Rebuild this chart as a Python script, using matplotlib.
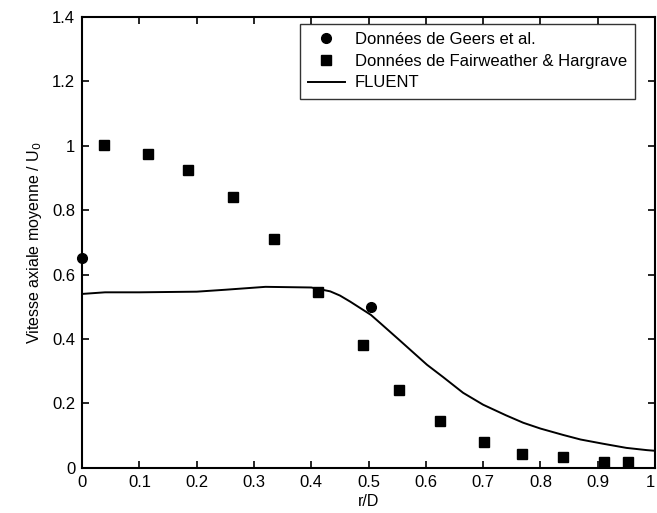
import matplotlib
matplotlib.use("Agg")
import matplotlib.pyplot as plt

plt.rcParams["font.family"] = ["Liberation Sans", "DejaVu Sans"]

# Donnees de Geers et al.
geers_r = [0.0, 0.504]
geers_u = [0.652, 0.50]

# Donnees de Fairweather & Hargrave
fh_r = [0.038, 0.115, 0.185, 0.264, 0.335, 0.412, 0.490, 0.553, 0.625,
        0.702, 0.768, 0.840, 0.911, 0.953]
fh_u = [1.003, 0.975, 0.925, 0.842, 0.711, 0.547, 0.382, 0.242, 0.146,
        0.081, 0.043, 0.034, 0.019, 0.019]

# FLUENT
fluent_r = [0.0, 0.04, 0.1, 0.2, 0.25, 0.32, 0.4, 0.433, 0.45, 0.468, 0.504,
            0.52, 0.553, 0.58, 0.602, 0.63, 0.665, 0.7, 0.74, 0.77, 0.8,
            0.84, 0.87, 0.909, 0.95, 0.986, 1.0]
fluent_u = [0.54, 0.545, 0.545, 0.547, 0.553, 0.562, 0.56, 0.548, 0.535, 0.516,
            0.475, 0.45, 0.398, 0.355, 0.32, 0.282, 0.233, 0.196, 0.163,
            0.14, 0.122, 0.102, 0.088, 0.075, 0.062, 0.055, 0.053]

xticks = [0, 0.1, 0.2, 0.3, 0.4, 0.5, 0.6, 0.7, 0.8, 0.9, 1]
xtick_labels = ["0", "0.1", "0.2", "0.3", "0.4", "0.5", "0.6", "0.7", "0.8", "0.9", "1"]
yticks = [0, 0.2, 0.4, 0.6, 0.8, 1.0, 1.2, 1.4]
ytick_labels = ["0", "0.2", "0.4", "0.6", "0.8", "1", "1.2", "1.4"]

fig = plt.figure(figsize=(6.57, 5.13), dpi=100)
ax = fig.add_axes([0.125, 0.088, 0.872, 0.879])

ax.plot(geers_r, geers_u, "o", color="black", markersize=7,
        label="Données de Geers et al.", clip_on=False, zorder=3)
ax.plot(fh_r, fh_u, "s", color="black", markersize=7.5,
        label="Données de Fairweather & Hargrave", clip_on=False, zorder=3)
ax.plot(fluent_r, fluent_u, "-", color="black", linewidth=1.4, label="FLUENT")

ax.set_xlim(0, 1)
ax.set_ylim(0, 1.4)
ax.set_xticks(xticks)
ax.set_xticklabels(xtick_labels)
ax.set_yticks(yticks)
ax.set_yticklabels(ytick_labels)
ax.tick_params(direction="in", top=True, right=True, length=5, width=1.2,
               labelsize=12, pad=5)
for sp in ax.spines.values():
    sp.set_linewidth(1.5)
# last tick label sits on the figure edge, keep it visible
ax.get_xticklabels()[-1].set_horizontalalignment("right")

ax.set_xlabel("r/D", fontsize=11.5, labelpad=3)
ax.set_ylabel("Vitesse axiale moyenne / U$_0$", fontsize=11.5, labelpad=6)

leg = ax.legend(loc="upper right", bbox_to_anchor=(0.965, 0.985),
                borderaxespad=0, fancybox=False, edgecolor="black",
                fontsize=12, handlelength=2.2, labelspacing=0.4,
                borderpad=0.5, handletextpad=0.6)
leg.get_frame().set_linewidth(1.0)

fig.savefig("out.png", dpi=100)
